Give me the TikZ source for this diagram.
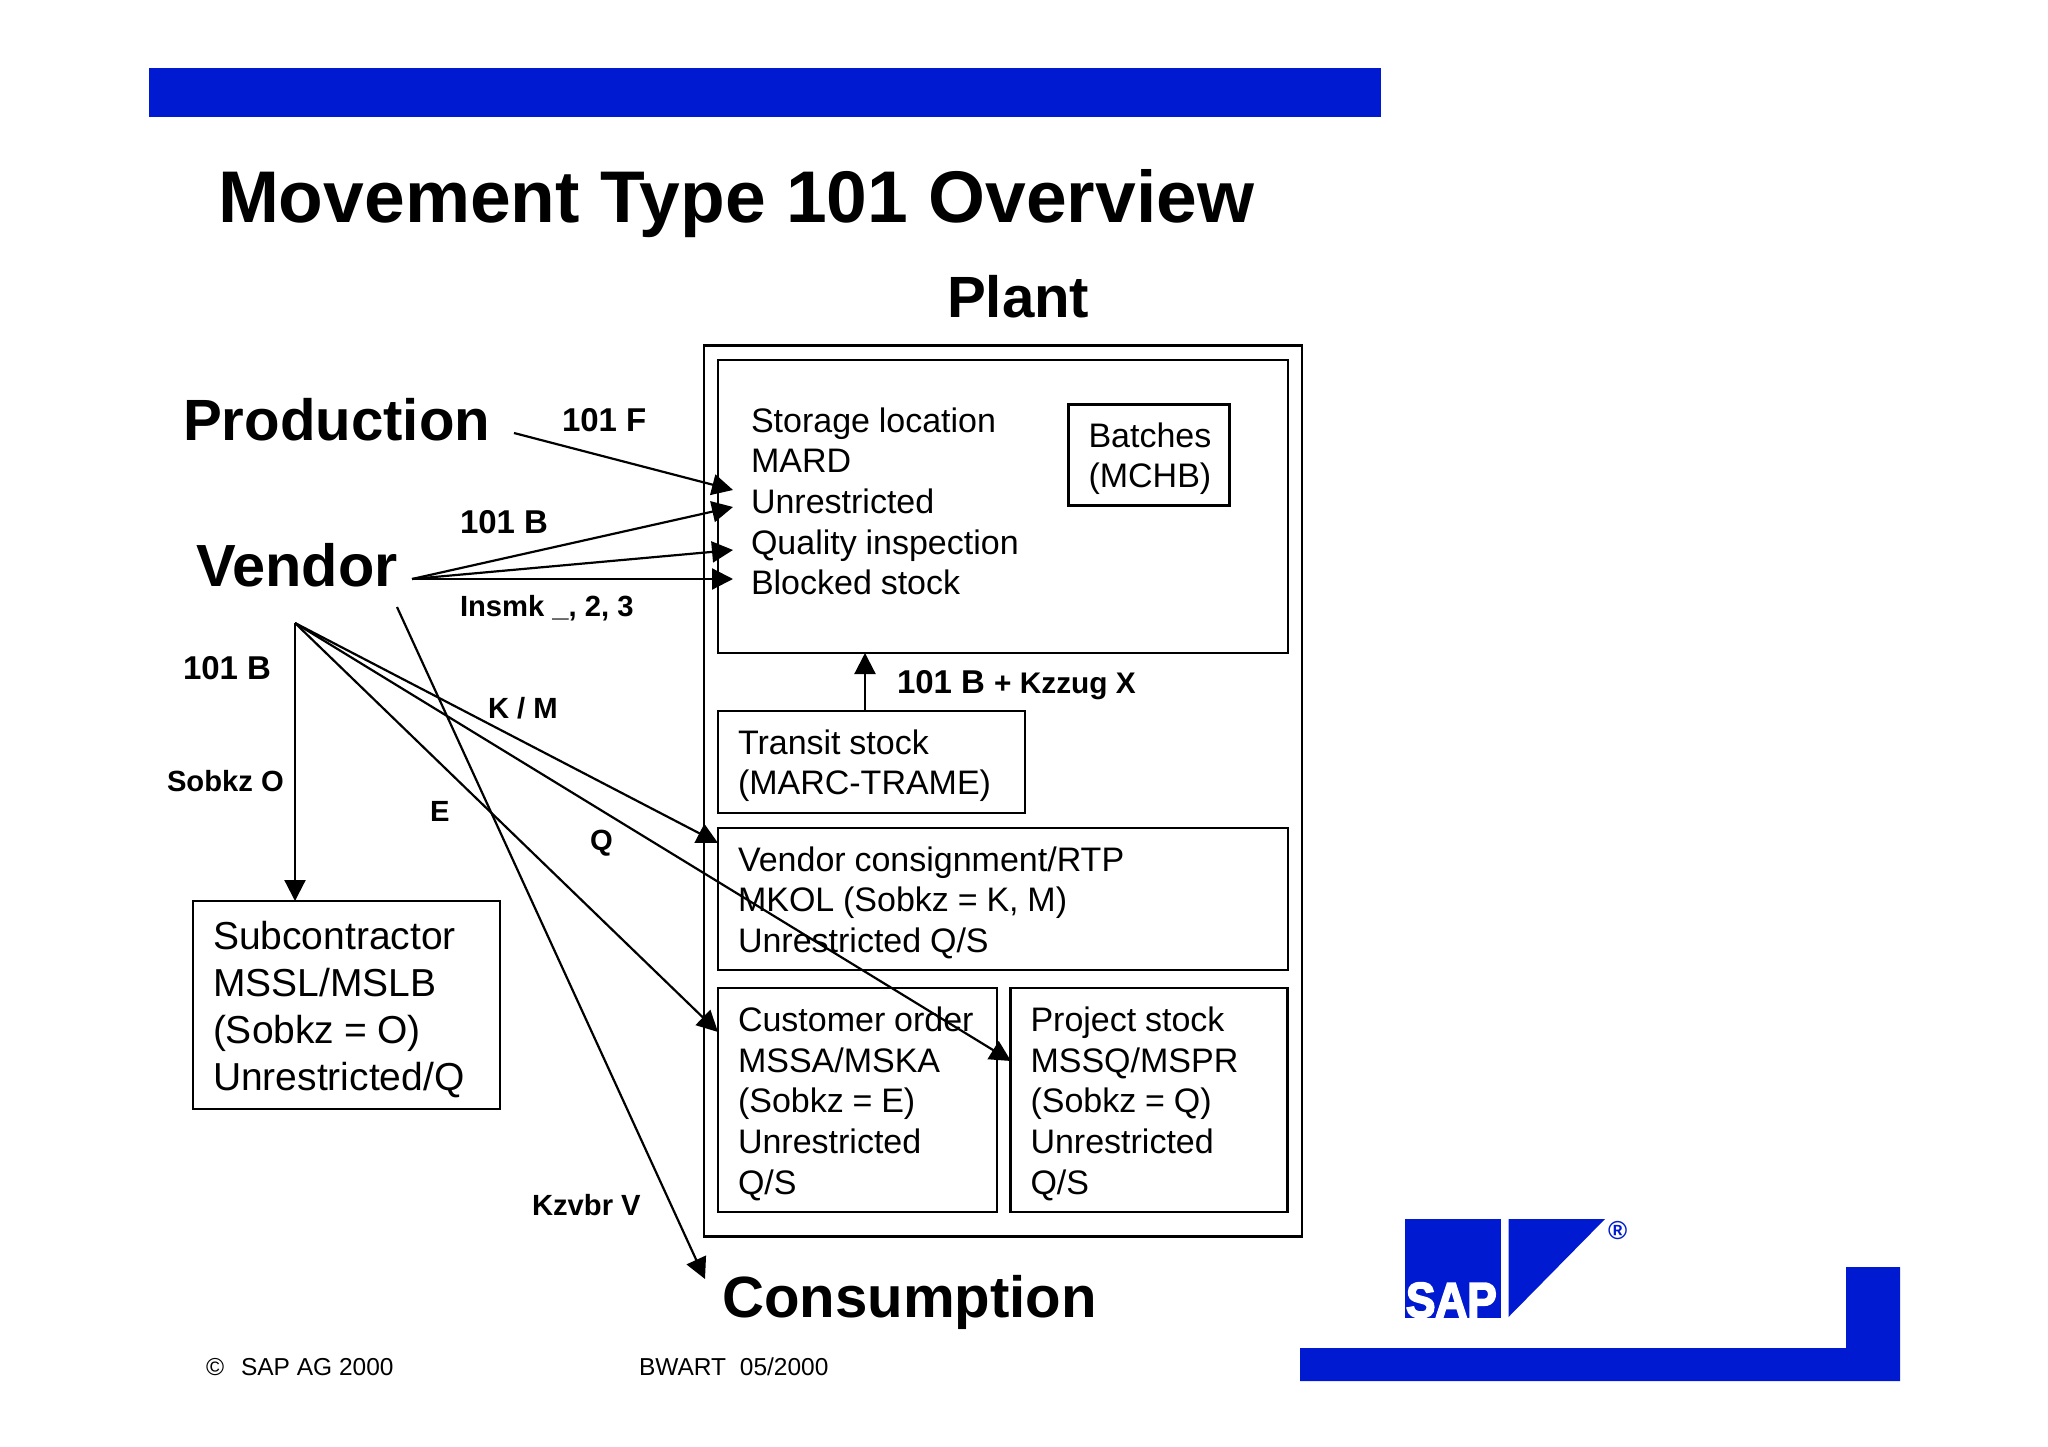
\documentclass[tikz,border=0pt]{standalone}
\usepackage{fontspec}
\setmainfont{Liberation Sans}
\newfontfamily\sapfont[FakeBold=4]{Liberation Sans Bold}
\usetikzlibrary{arrows.meta}
\definecolor{sapblue}{HTML}{001AD1}
\newcommand{\tightsp}{\frenchspacing\spaceskip=.26em\relax}
\tikzset{
  lab/.style={anchor=base west,inner sep=0pt,outer sep=0pt},
  title/.style={lab,font=\bfseries\fontsize{73.2}{80}\selectfont},
  head/.style={lab,font=\bfseries\fontsize{58.2}{64}\selectfont},
  tagbig/.style={lab,font=\bfseries\fontsize{33}{38}\selectfont},
  tagsmall/.style={lab,font=\bfseries\fontsize{29.2}{34}\selectfont},
  foot/.style={lab,font=\fontsize{24.5}{28}\selectfont},
  boxed/.style 2 args={draw,line width=2.2pt,anchor=north west,inner xsep=20pt,inner ysep=0pt,outer sep=0pt,
    minimum width=#1pt,minimum height=#2pt,text width=#1pt-40pt,align=left,
    font=\fontsize{34}{40.7}\selectfont,
    execute at begin node={\tightsp\rule{0pt}{.94em}}},
  conn/.style={line width=2.2pt,-{Triangle[length=21pt,width=21pt]}},
  bar/.style={fill=sapblue,draw=none}
}
\begin{document}
\begin{tikzpicture}[x=1pt,y=-1pt]
\useasboundingbox (0,0) rectangle (2048,1447);
\fill[white] (0,0) rectangle (2048,1447);
% bars
\path[bar] (149,68) rectangle (1381,117);
\path[bar] (1300,1348) -- (1846,1348) -- (1846,1267) -- (1900,1267) -- (1900,1381) -- (1300,1381) -- cycle;
% logo
\path[bar] (1404.5,1219) rectangle (1501,1318);
\path[bar] (1508.5,1219) -- (1605,1219) -- (1508.5,1317) -- cycle;
\begin{scope}
\clip (1404.5,1219) rectangle (1501,1318);
\node[lab,text=white,xscale=0.9,font=\sapfont\fontsize{49}{52}\selectfont] (saptext) at (1406,1317) {SAP};
\end{scope}
\node[lab,text=sapblue,font=\bfseries\fontsize{26}{28}\selectfont] (reg) at (1608,1239) {®};
% titles
\node[title] (ttl) at (218,223) {Movement Type 101 Overview};
\node[head] (plant) at (947,317) {Plant};
\node[head] (prod) at (183,440) {Production};
\node[head,font=\bfseries\fontsize{59.5}{64}\selectfont] (vend) at (196,586) {Vendor};
\node[head] (cons) at (722,1317) {Consumption};
% boxes
\node[draw,line width=2.2pt,anchor=north west,outer sep=0pt,inner sep=0pt,minimum width=598pt,minimum height=891pt] (plantbox) at (704,345.5) {};
\node[boxed={570}{293},execute at begin node={}] (storage) at (718,360) {};
\node[lab,align=left,font=\fontsize{34}{40.7}\selectfont,execute at begin node={\tightsp},anchor=north west] (storagetext) at (751,407.5) {Storage location\\MARD\\Unrestricted\\Quality inspection\\Blocked stock};
\node[boxed={161}{101}] (batches) at (1068.5,404.5) {Batches\\(MCHB)};
\node[boxed={307}{102}] (transit) at (718,711) {Transit stock\\(MARC-TRAME)};
\node[boxed={570}{142}] (vcons) at (718,828) {Vendor consignment/RTP\\MKOL (Sobkz = K, M)\\Unrestricted Q/S};
\node[boxed={279}{224}] (cust) at (718,988) {Customer order\\MSSA/MSKA\\(Sobkz = E)\\Unrestricted\\Q/S};
\node[boxed={277}{224}] (proj) at (1010.5,988) {Project stock\\MSSQ/MSPR\\(Sobkz = Q)\\Unrestricted\\Q/S};
\node[boxed={307}{208},font=\fontsize{39}{47}\selectfont] (sub) at (193,901) {Subcontractor\\MSSL/MSLB\\(Sobkz = O)\\Unrestricted/Q};
% labels
\node[tagbig] (l1) at (562,431) {101 F};
\node[tagbig] (l2) at (460,533) {101 B};
\node[tagsmall] (l3) at (460,616) {Insmk \_, 2, 3};
\node[tagbig] (l4) at (183,679) {101 B};
\node[tagsmall] (l5) at (167,791) {Sobkz O};
\node[tagsmall] (l6) at (488,718) {K / M};
\node[tagsmall] (l7) at (430,821) {E};
\node[tagsmall] (l8) at (590,850) {Q};
\node[tagsmall] (l9) at (532,1215) {Kzvbr V};
\node[tagbig] (l10) at (897,693) {101 B \fontsize{29.8}{34}\selectfont + Kzzug X};
\node[foot] (f1) at (206,1375) {©\hspace{17pt}SAP AG 2000};
\node[foot] (f2) at (639,1375) {BWART\hspace{7pt} 05/2000};
% connector ends
\coordinate (pstart) at (514,433);
\coordinate (ptip) at (733,490);
\coordinate (vo) at (412,579);
\coordinate (t1) at (733,507);
\coordinate (t2) at (733,550);
\coordinate (t3) at (733,579);
\coordinate (tr) at (865,711);
\coordinate (vs) at (397,607);
\coordinate (vc) at (705,1279);
\coordinate (vb) at (295,623);
\coordinate (tk) at (718,843);
\coordinate (te) at (718,1032);
\coordinate (tq) at (1011,1061);
% connectors
\draw[conn] (pstart) -- (ptip);
\draw[conn] (vo) -- (t1);
\draw[conn] (vo) -- (t2);
\draw[conn] (vo) -- (t3);
\draw[conn] (tr) -- (tr |- storage.south);
\draw[conn] (vs) -- (vc);
\draw[conn] (vb) -- (vb |- sub.north);
\draw[conn] (vb) -- (tk);
\draw[conn] (vb) -- (te);
\draw[conn] (vb) -- (tq);
\end{tikzpicture}
\end{document}
